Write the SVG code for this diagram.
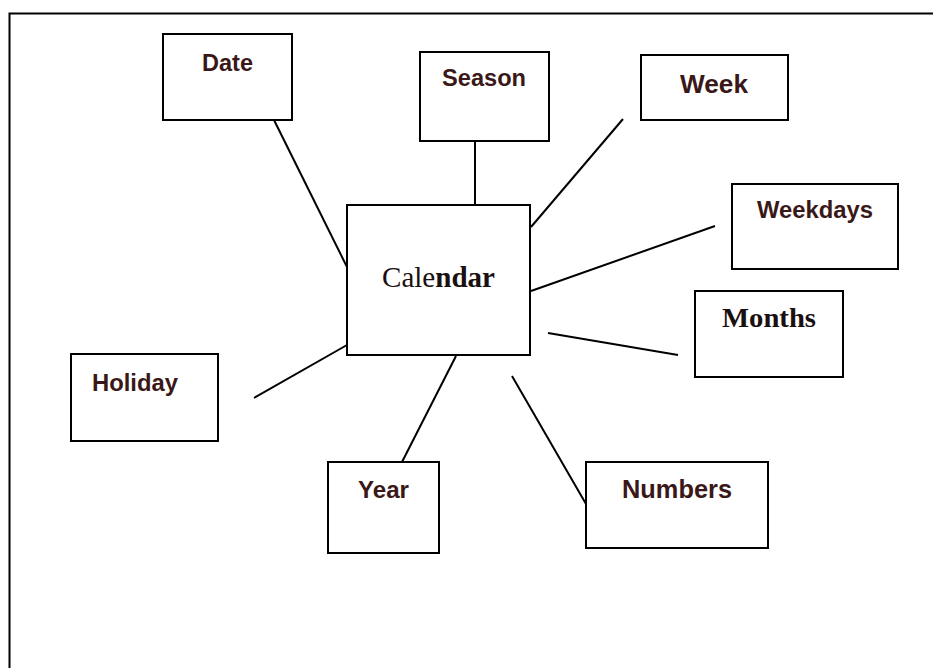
<svg xmlns="http://www.w3.org/2000/svg" width="933" height="668" viewBox="0 0 933 668">
<style>
.box{fill:#fff;stroke:#000;stroke-width:2}
.lbl{font-family:"Liberation Sans",Arial,sans-serif;font-weight:bold;fill:#3a1818;text-anchor:start}
.ser{font-family:"Liberation Serif","Times New Roman",serif;fill:#1a1010}
.con line{stroke:#000;stroke-width:2}
</style>
<rect width="933" height="668" fill="#fff"/>
<path d="M9.5 680 V13.5 H940" fill="none" stroke="#000" stroke-width="2"/>
<g class="con" id="connectors">
<line x1="274" y1="120" x2="347" y2="267"/>
<line x1="475" y1="141" x2="475" y2="205"/>
<line x1="623" y1="119" x2="531" y2="227"/>
<line x1="715" y1="226" x2="531" y2="291"/>
<line x1="548" y1="333" x2="678" y2="355"/>
<line x1="254" y1="398" x2="347" y2="345"/>
<line x1="456" y1="356" x2="402" y2="462"/>
<line x1="512" y1="376" x2="586" y2="504"/>
</g>
<g id="calendar"><rect class="box" x="347" y="205" width="183" height="150"/>
<text class="ser" x="382" y="287" font-size="29.5" textLength="113" lengthAdjust="spacingAndGlyphs">Cale<tspan font-weight="bold">ndar</tspan></text></g>
<g id="date"><rect class="box" x="163" y="34" width="129" height="86"/>
<text class="lbl" x="202" y="71" font-size="23" textLength="51" lengthAdjust="spacingAndGlyphs">Date</text></g>
<g id="season"><rect class="box" x="420" y="52" width="129" height="89"/>
<text class="lbl" x="442" y="86" font-size="23" textLength="84" lengthAdjust="spacingAndGlyphs">Season</text></g>
<g id="week"><rect class="box" x="641" y="55" width="147" height="65"/>
<text class="lbl" x="680" y="93" font-size="25.5" textLength="68" lengthAdjust="spacingAndGlyphs">Week</text></g>
<g id="weekdays"><rect class="box" x="732" y="184" width="166" height="85"/>
<text class="lbl" x="757" y="218" font-size="23.5" textLength="116" lengthAdjust="spacingAndGlyphs">Weekdays</text></g>
<g id="months"><rect class="box" x="695" y="291" width="148" height="86"/>
<text class="ser" x="722" y="327" font-size="27.5" font-weight="bold" fill="#3a1818" textLength="94" lengthAdjust="spacingAndGlyphs">Months</text></g>
<g id="holiday"><rect class="box" x="71" y="354" width="147" height="87"/>
<text class="lbl" x="92" y="391" font-size="24" textLength="86" lengthAdjust="spacingAndGlyphs">Holiday</text></g>
<g id="year"><rect class="box" x="328" y="462" width="111" height="91"/>
<text class="lbl" x="358" y="498" font-size="23.5" textLength="51" lengthAdjust="spacingAndGlyphs">Year</text></g>
<g id="numbers"><rect class="box" x="586" y="462" width="182" height="86"/>
<text class="lbl" x="622" y="498" font-size="26" textLength="110" lengthAdjust="spacingAndGlyphs">Numbers</text></g>
</svg>
